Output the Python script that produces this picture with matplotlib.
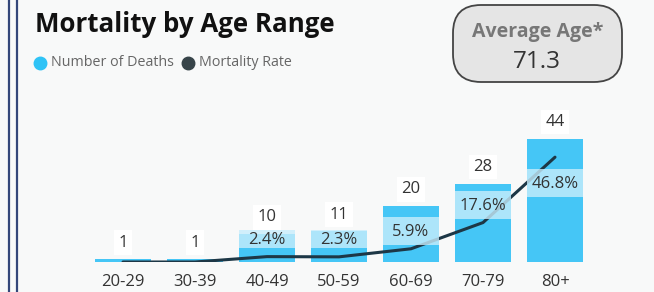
import numpy as np
import matplotlib
matplotlib.use("Agg")
import matplotlib.pyplot as plt
from matplotlib.lines import Line2D
from matplotlib.patches import FancyBboxPatch, Rectangle
import matplotlib.transforms as mtransforms

# data
age_ranges = ["20-29", "30-39", "40-49", "50-59", "60-69", "70-79", "80+"]
deaths = [1, 1, 10, 11, 20, 28, 44]
mortality_rate = [0.0, 0.0, 2.4, 2.3, 5.9, 17.6, 46.8]
rate_labels = [None, None, "2.4%", "2.3%", "5.9%", "17.6%", "46.8%"]
average_age = 71.3

bar_color = "#45c6f6"
line_color = "#1d3746"
box_color = "#c8edfc"
bg = "#f8f9f9"

plt.rcParams["font.family"] = ["Open Sans", "DejaVu Sans"]

W, H = 654, 292
fig = plt.figure(figsize=(W / 100, H / 100), dpi=100, facecolor=bg)

# plot area in pixels: x 87..591, y baseline 262 up to 100
ax = fig.add_axes([87 / W, (H - 262) / H, 504 / W, 162 / H])
ax.set_facecolor("none")
x = np.arange(len(age_ranges))
ax.bar(x, deaths, width=0.78, color=bar_color, zorder=2)
ax.set_xlim(-0.5, len(age_ranges) - 0.5)
ax.set_ylim(0, 162 / 2.8)
ax.set_xticks(x)
ax.set_xticklabels(age_ranges, fontsize=12, color="#333333")
ax.tick_params(axis="x", length=0, pad=9)
ax.set_yticks([])
for s in ax.spines.values():
    s.set_visible(False)

for xi, d in zip(x, deaths):
    ax.annotate(str(d), (xi, d), xytext=(0, 12), textcoords="offset points",
                ha="center", va="center", fontsize=12, color="#333333", zorder=5,
                bbox=dict(boxstyle="square,pad=0.25", fc="white", ec="none"))

ax2 = ax.twinx()
ax2.set_ylim(0, 162 / 2.24)
ax2.set_yticks([])
for s in ax2.spines.values():
    s.set_visible(False)
ax2.plot(x, mortality_rate, color=line_color, lw=2.2, zorder=3, solid_capstyle="round")

px_per_unit = 2.24
for xi, r, lab in zip(x, mortality_rate, rate_labels):
    if lab is None:
        continue
    # label sits above the point, except the last one which goes below
    off_px = -26 if r > 40 else 18
    yc = r + off_px / px_per_unit
    hbox = (18 if r < 3 else 28) / px_per_unit
    ax2.add_patch(Rectangle((xi - 0.39, yc - hbox / 2), 0.78, hbox, fc=box_color,
                            ec="none", alpha=0.8, zorder=4))
    ax2.text(xi, yc - 1 / px_per_unit, lab, ha="center", va="center", fontsize=12,
             color="#333333", zorder=5)

# title + legend
fig.text(35 / W, 1 - 32 / H, "Mortality by Age Range", fontsize=18.6, fontweight="bold",
         color="#111111", va="baseline")
fig.add_artist(Line2D([40 / W], [1 - 63 / H], marker="o", ms=9, color="#2fc3f6",
                      transform=fig.transFigure))
fig.text(51 / W, 1 - 63 / H, "Number of Deaths", fontsize=10.3, color="#666666", va="center")
fig.add_artist(Line2D([188 / W], [1 - 63 / H], marker="o", ms=9, color="#374449",
                      transform=fig.transFigure))
fig.text(199 / W, 1 - 63 / H, "Mortality Rate", fontsize=10.3, color="#666666", va="center")

# average age card
card = FancyBboxPatch((453, H - 82), 169, 77, boxstyle="round,pad=0,rounding_size=28",
                      fc="#e5e5e5", ec="#444444", lw=1.3,
                      transform=mtransforms.IdentityTransform())
fig.add_artist(card)
fig.text(538 / W, 1 - 32 / H, "Average Age*", fontsize=14, fontweight="bold",
         color="#777777", ha="center", va="center")
fig.text(537 / W, 1 - 62 / H, f"{average_age}", fontsize=17.5, color="#333333",
         ha="center", va="center")

# left border lines
for bx in (8.5, 16.5):
    fig.add_artist(Line2D([bx / W, bx / W], [0, 1], color="#34477a", lw=1.6,
                          transform=fig.transFigure))

fig.savefig("out.png", dpi=100, facecolor=bg)
